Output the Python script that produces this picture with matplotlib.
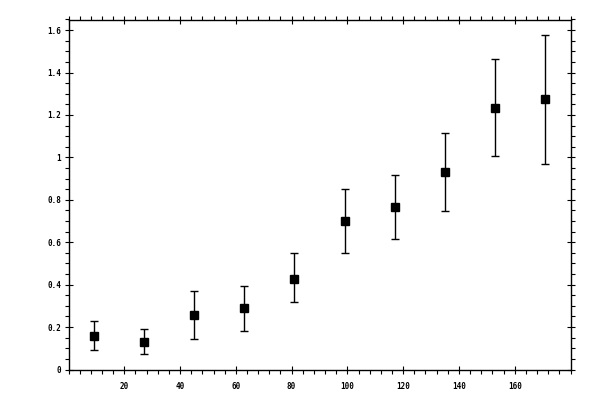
import numpy as np
import matplotlib.pyplot as plt
from matplotlib.ticker import MultipleLocator, FuncFormatter

# data
x = [9, 27, 45, 63, 81, 99, 117, 135, 153, 171]
y = [0.160, 0.132, 0.259, 0.288, 0.429, 0.698, 0.764, 0.929, 1.235, 1.273]
y_low = [0.090, 0.075, 0.146, 0.181, 0.316, 0.547, 0.614, 0.746, 1.006, 0.971]
y_high = [0.231, 0.191, 0.372, 0.396, 0.547, 0.849, 0.915, 1.113, 1.466, 1.575]

x_ticks = [20, 40, 60, 80, 100, 120, 140, 160]
y_ticks = [0, 0.2, 0.4, 0.6, 0.8, 1.0, 1.2, 1.4, 1.6]

y = np.array(y)
err = [y - np.array(y_low), np.array(y_high) - y]

fig = plt.figure(figsize=(6, 4), dpi=100)
ax = fig.add_axes([68.5 / 600, 1 - 369.5 / 400, 502 / 600, 350 / 400])

ax.errorbar(x, y, yerr=err, fmt='s', color='black', markersize=5.2,
            elinewidth=1.0, capsize=2.6, capthick=1.0)

ax.set_xlim(0, 180)
ax.set_ylim(0, 1.65)

ax.set_xticks(x_ticks)
ax.set_yticks(y_ticks)
ax.xaxis.set_minor_locator(MultipleLocator(4))
ax.yaxis.set_minor_locator(MultipleLocator(0.05))
ax.yaxis.set_major_formatter(FuncFormatter(lambda v, p: '%g' % round(v, 2)))

for s in ax.spines.values():
    s.set_linewidth(1.0)

ax.tick_params(which='major', direction='inout', length=5.8, width=0.8,
               top=True, right=True, labelsize=5.5)
ax.tick_params(which='minor', direction='out', length=2.6, width=0.8,
               top=True, right=True)
ax.tick_params(axis='x', which='major', pad=6.0)
ax.tick_params(axis='y', which='major', pad=2.5)

for lbl in ax.get_xticklabels() + ax.get_yticklabels():
    lbl.set_family('DejaVu Sans Mono')
    lbl.set_weight('bold')

fig.savefig('out.png', dpi=100)
